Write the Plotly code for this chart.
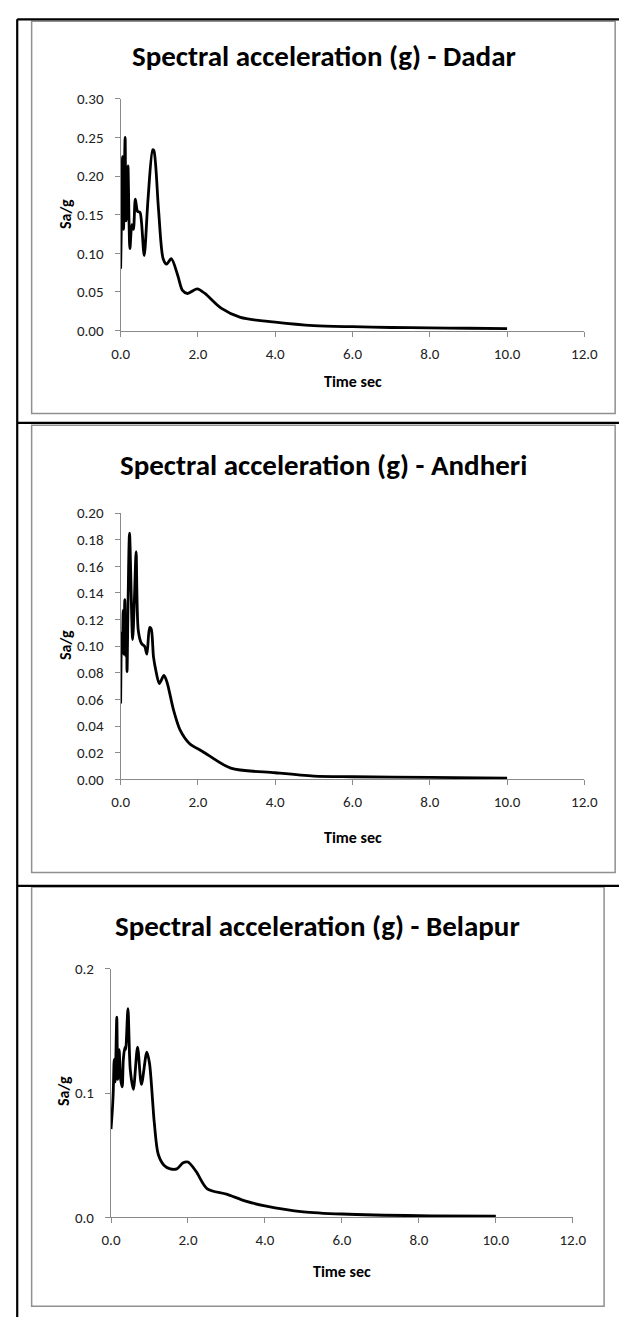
import plotly.graph_objects as go

W, H = 633, 1326

# ---------------- data ----------------
dadar_t = [0, 0.025, 0.05, 0.075, 0.116, 0.141, 0.17, 0.19, 0.24, 0.29, 0.33, 0.38, 0.44, 0.50,
           0.54, 0.61, 0.71, 0.83, 0.86, 0.98, 1.10, 1.19, 1.31, 1.48, 1.60, 1.73, 1.98, 2.18,
           2.60, 3.10, 4.0, 5.0, 6.0, 7.0, 8.0, 9.0, 10.0]
dadar_sa = [0.080, 0.154, 0.225, 0.131, 0.250, 0.142, 0.155, 0.213, 0.106, 0.137, 0.131, 0.170,
            0.154, 0.153, 0.140, 0.097, 0.171, 0.234, 0.233, 0.157, 0.093, 0.086, 0.093, 0.071,
            0.052, 0.048, 0.054, 0.048, 0.029, 0.017, 0.011, 0.0065, 0.005, 0.004, 0.0035,
            0.003, 0.0025]

andheri_t = [0, 0.025, 0.045, 0.066, 0.083, 0.108, 0.13, 0.15, 0.166, 0.19, 0.23, 0.31, 0.357,
             0.40, 0.456, 0.54, 0.62, 0.68, 0.75, 0.79, 0.85, 0.91, 1.0, 1.12, 1.2, 1.37, 1.54,
             1.78, 2.12, 2.85, 4.0, 5.0, 6.0, 8.0, 10.0]
andheri_sa = [0.057, 0.110, 0.095, 0.127, 0.094, 0.135, 0.093, 0.118, 0.081, 0.129, 0.185, 0.105,
              0.136, 0.171, 0.112, 0.102, 0.100, 0.094, 0.114, 0.113, 0.092, 0.082, 0.072, 0.078,
              0.073, 0.052, 0.037, 0.027, 0.021, 0.0085, 0.005, 0.0025, 0.002, 0.0015, 0.001]

belapur_t = [0, 0.04, 0.06, 0.083, 0.108, 0.125, 0.15, 0.175, 0.21, 0.25, 0.29, 0.32, 0.36, 0.38,
             0.44, 0.50, 0.58, 0.69, 0.79, 0.93, 1.0, 1.125, 1.225, 1.375, 1.54, 1.71, 1.875,
             2.0, 2.21, 2.5, 3.0, 3.5, 4.0, 5.0, 6.0, 8.0, 10.0]
belapur_sa = [0.071, 0.089, 0.103, 0.127, 0.109, 0.128, 0.161, 0.111, 0.135, 0.111, 0.105, 0.127,
              0.137, 0.135, 0.168, 0.119, 0.103, 0.137, 0.107, 0.133, 0.124, 0.076, 0.051, 0.042,
              0.039, 0.039, 0.044, 0.0445, 0.037, 0.023, 0.0187, 0.013, 0.0093, 0.0045, 0.0027,
              0.0013, 0.001]

titles = ["Spectral acceleration (g) - Dadar",
          "Spectral acceleration (g) - Andheri",
          "Spectral acceleration (g) - Belapur"]
x_ticks = [0, 2, 4, 6, 8, 10, 12]
y_ticks = [[0, 0.05, 0.10, 0.15, 0.20, 0.25, 0.30],
           [0, 0.02, 0.04, 0.06, 0.08, 0.10, 0.12, 0.14, 0.16, 0.18, 0.20],
           [0, 0.1, 0.2]]
y_formats = [".2f", ".2f", ".1f"]
x_title = "Time sec"
y_title = "Sa/g"

# ---------------- layout (pixel geometry) ----------------
def px(x):
    return x / W

def py(y):
    return 1 - y / H

# plot areas: (left, right, top, bottom) in pixels
areas = [(115, 597, 91, 326), (115, 597, 511, 781), (105, 585, 973, 1225)]
title_pos = [(326, 48), (326, 462), (320, 930)]
xtitle_pos = [(356, 378), (356, 840), (345, 1280)]
ytitle_pos = [(57, 208), (57, 645), (55, 1097)]
frames = [(22.5, 629, 12.5, 410), (22.5, 629, 422, 875.5), (22.5, 617.5, 890, 1315)]

series = [(dadar_t, dadar_sa), (andheri_t, andheri_sa), (belapur_t, belapur_sa)]

fig = go.Figure()
FONT = "Carlito, Lato, sans-serif"
axis_gray = "#8a8a8a"

for i, (t, sa) in enumerate(series):
    n = "" if i == 0 else str(i + 1)
    fig.add_trace(go.Scatter(x=t, y=sa, mode="lines",
                             line=dict(color="black", width=2.8, shape="spline", smoothing=0.8),
                             xaxis="x" + n, yaxis="y" + n, showlegend=False, hoverinfo="skip"))
    l, r, tp, b = areas[i]
    fig.layout["xaxis" + n] = dict(
        domain=[px(l), px(r)], anchor="y" + n, range=[0, 12], tickvals=x_ticks,
        tickformat=".1f", showgrid=False, zeroline=False, showline=True,
        linecolor=axis_gray, linewidth=1.2, ticks="outside", ticklen=5,
        tickcolor=axis_gray, tickwidth=1.2, ticklabelstandoff=4,
        tickfont=dict(family=FONT, size=15, color="#222"), fixedrange=True)
    yr = y_ticks[i][-1]
    fig.layout["yaxis" + n] = dict(
        domain=[py(b), py(tp)], anchor="x" + n, range=[0, yr], tickvals=y_ticks[i],
        tickformat=y_formats[i], showgrid=False, zeroline=False, showline=True,
        linecolor=axis_gray, linewidth=1.2, ticks="outside", ticklen=5,
        tickcolor=axis_gray, tickwidth=1.2, ticklabelstandoff=8,
        tickfont=dict(family=FONT, size=15, color="#222"), fixedrange=True)

    fig.add_annotation(text="<b>%s</b>" % titles[i], x=px(title_pos[i][0]), y=py(title_pos[i][1]),
                       xref="paper", yref="paper", xanchor="center", yanchor="middle",
                       showarrow=False, font=dict(family=FONT, size=29, color="black"))
    fig.add_annotation(text="<b>%s</b>" % x_title, x=px(xtitle_pos[i][0]), y=py(xtitle_pos[i][1]),
                       xref="paper", yref="paper", xanchor="center", yanchor="middle",
                       showarrow=False, font=dict(family=FONT, size=16, color="black"))
    fig.add_annotation(text="<b>%s</b>" % y_title, x=px(ytitle_pos[i][0]), y=py(ytitle_pos[i][1]),
                       xref="paper", yref="paper", xanchor="center", yanchor="middle",
                       textangle=-90, showarrow=False,
                       font=dict(family=FONT, size=16, color="black"))
    fl, fr, ft, fb = frames[i]
    fig.add_shape(type="rect", xref="paper", yref="paper",
                  x0=px(fl), x1=px(fr), y0=py(fb), y1=py(ft),
                  line=dict(color="#909090", width=1.5), layer="below")

# black table lines
black_lines = [(7.5, 10.5, 633, 10.5), (7.5, 10.5, 7.5, 1326),
               (7.5, 419.5, 633, 419.5), (7.5, 889, 633, 889)]
for x0, y0, x1, y1 in black_lines:
    fig.add_shape(type="line", xref="paper", yref="paper",
                  x0=px(x0), y0=py(y0), x1=px(x1), y1=py(y1),
                  line=dict(color="black", width=2.2))

fig.update_layout(width=W, height=H, margin=dict(l=0, r=0, t=0, b=0),
                  paper_bgcolor="white", plot_bgcolor="white", showlegend=False)

fig.write_html("out.html", post_script="document.body.style.margin='0';")
